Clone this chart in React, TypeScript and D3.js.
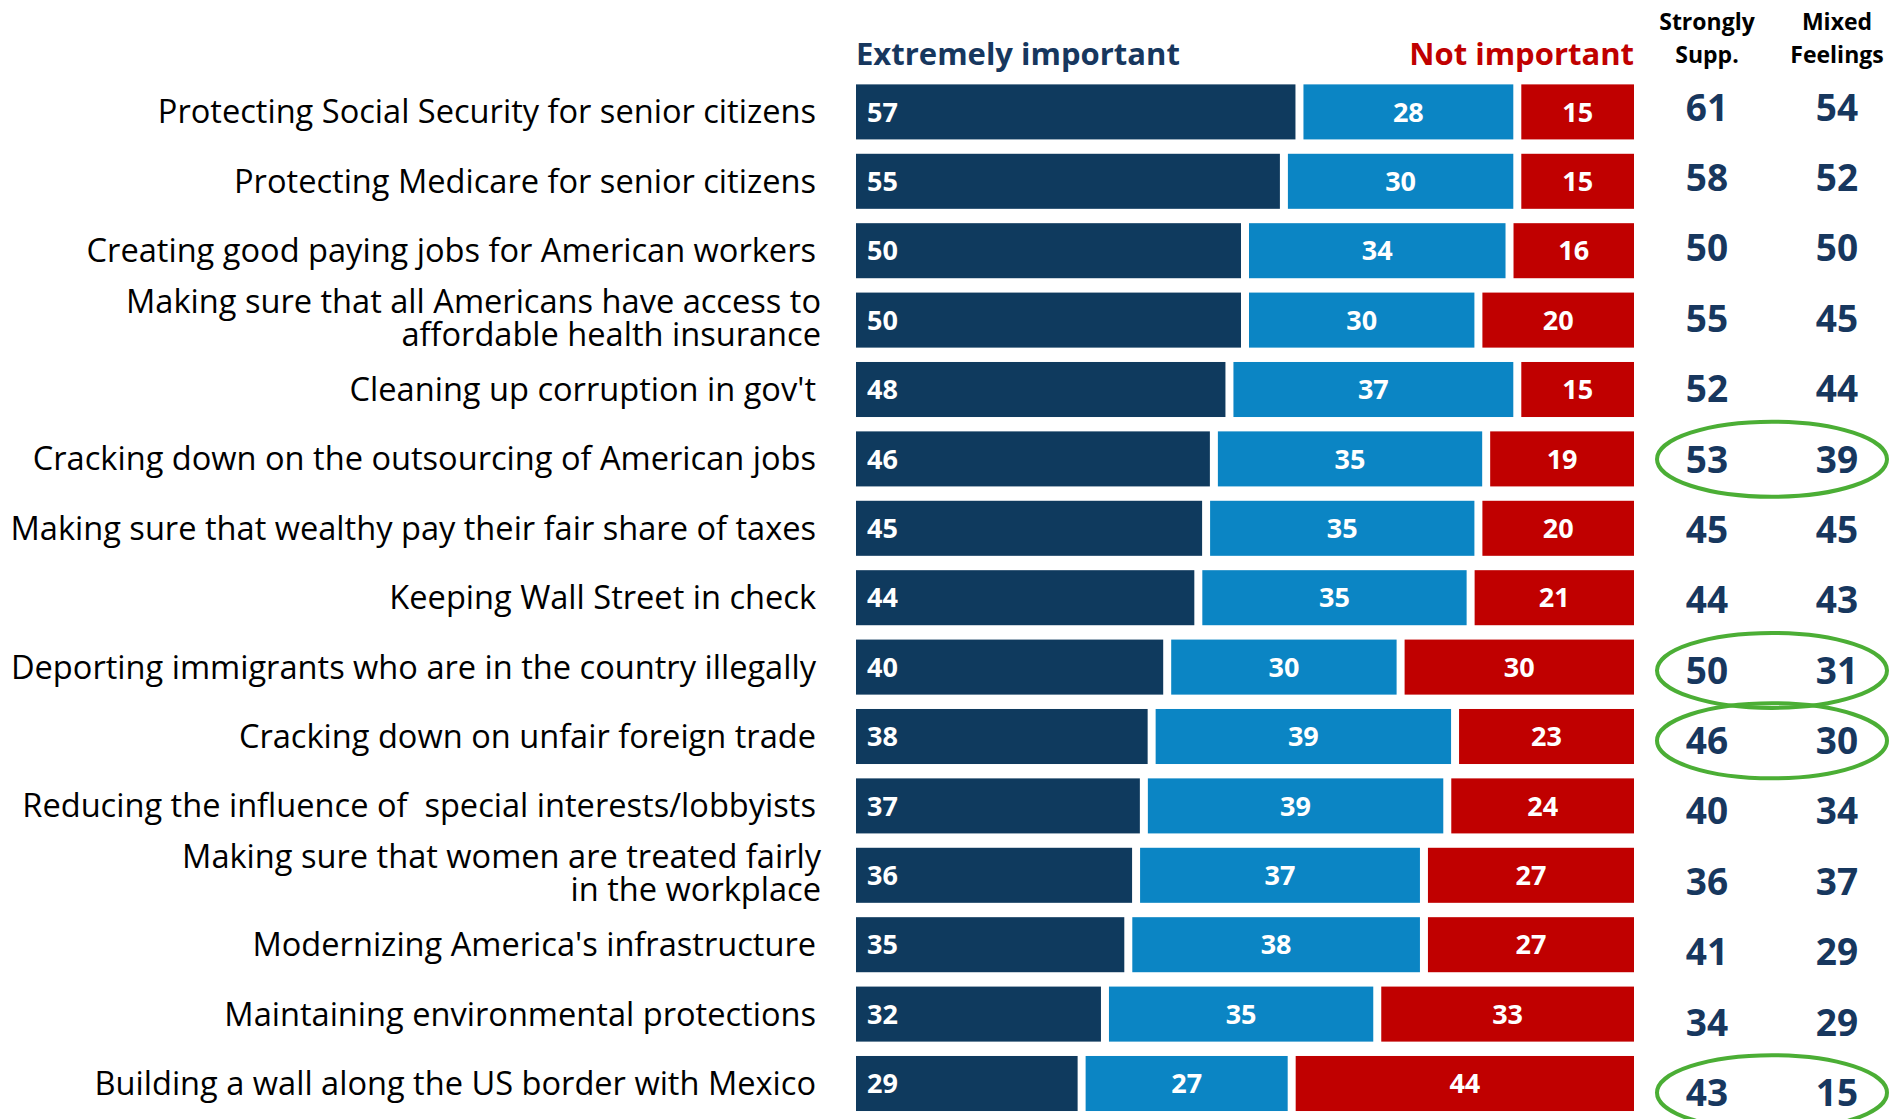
import React from "react";
import * as d3 from "d3";

const categories = [
  "Protecting Social Security for senior citizens",
  "Protecting Medicare for senior citizens",
  "Creating good paying jobs for American workers",
  "Making sure that all Americans have access to\naffordable health insurance",
  "Cleaning up corruption in gov't",
  "Cracking down on the outsourcing of American jobs",
  "Making sure that wealthy pay their fair share of taxes",
  "Keeping Wall Street in check",
  "Deporting immigrants who are in the country illegally",
  "Cracking down on unfair foreign trade",
  "Reducing the influence of  special interests/lobbyists",
  "Making sure that women are treated fairly\nin the workplace",
  "Modernizing America's infrastructure",
  "Maintaining environmental protections",
  "Building a wall along the US border with Mexico",
];

const extremelyImportant = [57, 55, 50, 50, 48, 46, 45, 44, 40, 38, 37, 36, 35, 32, 29];
const somewhatImportant = [28, 30, 34, 30, 37, 35, 35, 35, 30, 39, 39, 37, 38, 35, 27];
const notImportant = [15, 15, 16, 20, 15, 19, 20, 21, 30, 23, 24, 27, 27, 33, 44];
const stronglySupp = [61, 58, 50, 55, 52, 53, 45, 44, 50, 46, 40, 36, 41, 34, 43];
const mixedFeelings = [54, 52, 50, 45, 44, 39, 45, 43, 31, 30, 34, 37, 29, 29, 15];
const highlighted = [
  "Cracking down on the outsourcing of American jobs",
  "Deporting immigrants who are in the country illegally",
  "Cracking down on unfair foreign trade",
  "Building a wall along the US border with Mexico",
];
const seriesKeys = ["extremely", "somewhat", "not"];
const columnHeaders = [["Strongly", "Supp."], ["Mixed", "Feelings"]];

const COLORS: Record<string, string> = {
  extremely: "#0F3A5E",
  somewhat: "#0B85C4",
  not: "#C00000",
};
const NAVY = "#17375E";
const RED = "#C00000";
const GREEN = "#4BAE35";
const FONT = "'Open Sans', 'Noto Sans', sans-serif";

export default function App() {
  const W = 1891;
  const H = 1119;

  const rows = categories.map((c, i) => ({
    cat: c,
    extremely: extremelyImportant[i],
    somewhat: somewhatImportant[i],
    not: notImportant[i],
    strong: stronglySupp[i],
    mixed: mixedFeelings[i],
  }));

  const x = d3.scaleLinear().domain([0, 100]).range([856, 1634]);
  const y = d3
    .scaleBand<string>()
    .domain(categories)
    .range([77.2, 1118.2])
    .paddingInner(0.207)
    .paddingOuter(0.1035);
  // the right-hand number columns sit on their own, slightly wider row pitch
  const yNum = d3.scalePoint<string>().domain(categories).range([107.3, 1092.7]);
  const colX = d3.scalePoint<number>().domain([0, 1]).range([1707, 1837]);

  const stack = d3.stack<any>().keys(seriesKeys);
  const series = stack(rows);
  const bh = y.bandwidth();
  const gap = 4;

  return (
    <svg
      width={W}
      height={H}
      style={{ position: "absolute", left: 0, top: 0, background: "#fff" }}
      fontFamily={FONT}
    >
      {/* headers */}
      <text x={x(0)} y={65} fill={NAVY} fontWeight={700} fontSize={31}>
        Extremely important
      </text>
      <text x={x(100)} y={65} fill={RED} fontWeight={700} fontSize={31} textAnchor="end">
        Not important
      </text>
      {columnHeaders.map((lines, ci) =>
        lines.map((l, li) => (
          <text
            key={ci + "-" + li}
            x={colX(ci)}
            y={30 + li * 32.5}
            fill="#000"
            fontWeight={700}
            fontSize={23}
            textAnchor="middle"
          >
            {l}
          </text>
        ))
      )}

      {/* category labels */}
      {rows.map((r) => {
        const lines = r.cat.split("\n");
        const cy = (y(r.cat) as number) + bh / 2 - (lines.length > 1 ? 2 : 0);
        const lh = 32.6;
        const multi = lines.length > 1;
        return (
          <text
            key={r.cat}
            x={multi ? 821 : 816}
            y={cy}
            fill="#000"
            fontSize={32.6}
            textAnchor="end"
            style={{ whiteSpace: "pre" }}
          >
            {lines.map((l, li) => (
              <tspan
                key={li}
                x={multi ? 821 : 816}
                y={cy + (li - (lines.length - 1) / 2) * lh}
                dy="0.35em"
              >
                {l}
              </tspan>
            ))}
          </text>
        );
      })}

      {/* bars */}
      {series.map((s, si) => (
        <g key={s.key} fill={COLORS[s.key]}>
          {s.map((d, i) => {
            const cat = rows[i].cat;
            const x0 = x(d[0]) + (si > 0 ? gap : 0);
            const x1 = x(d[1]) - (si < series.length - 1 ? gap : 0);
            const yy = y(cat) as number;
            const v = d[1] - d[0];
            return (
              <g key={cat}>
                <rect x={x0} y={yy} width={x1 - x0} height={bh} />
                <text
                  x={si === 0 ? x0 + 11 : (x0 + x1) / 2}
                  y={yy + bh / 2}
                  dy="0.36em"
                  fill="#fff"
                  fontWeight={700}
                  fontSize={27}
                  textAnchor={si === 0 ? "start" : "middle"}
                >
                  {v}
                </text>
              </g>
            );
          })}
        </g>
      ))}

      {/* right columns */}
      {rows.map((r) => {
        const cy = yNum(r.cat) as number;
        return (
          <g key={r.cat}>
            {[r.strong, r.mixed].map((v, ci) => (
              <text
                key={ci}
                x={colX(ci)}
                y={cy}
                dy="0.36em"
                fill={NAVY}
                fontWeight={700}
                fontSize={37}
                textAnchor="middle"
              >
                {v}
              </text>
            ))}
          </g>
        );
      })}

      {/* highlight ellipses */}
      {highlighted.map((c) => {
        const cy = yNum(c) as number;
        return (
          <ellipse
            key={c}
            cx={((colX(0) as number) + (colX(1) as number)) / 2}
            cy={cy}
            rx={115}
            ry={37.5}
            fill="none"
            stroke={GREEN}
            strokeWidth={4}
          />
        );
      })}
    </svg>
  );
}
